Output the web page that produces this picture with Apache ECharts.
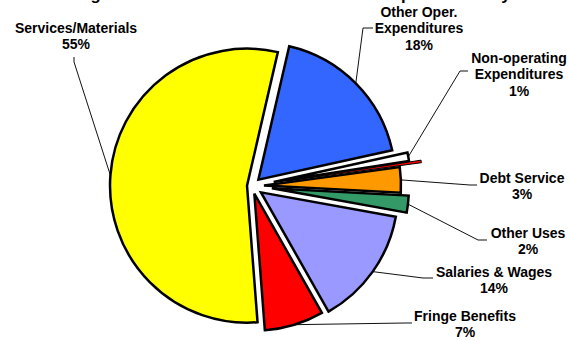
<!DOCTYPE html>
<html>
<head>
<meta charset="utf-8">
<script src="https://cdn.jsdelivr.net/npm/echarts@6/dist/echarts.min.js"></script>
<style>
  html, body { margin: 0; padding: 0; background: #fff; }
  #chart { width: 569px; height: 340px; }
</style>
</head>
<body>
<div id="chart"></div>
<script>
// Expenditure categories, listed clockwise starting just right of 12 o'clock
const categories = [
  'Other Oper.\nExpenditures',
  'Non-operating\nExpenditures',
  '',
  'Debt Service',
  'Other Uses',
  'Salaries & Wages',
  'Fringe Benefits',
  'Services/Materials'
];
// Share of the total, in percent
const shares = [18, 1, 0.3, 3, 2, 14, 7, 55];

const titleText = 'Budget Allocation of Total General Fund Expenditures by Function';

// ---- styling / layout ----
const colors = ['#3366FF', '#FFFFFF', '#FF0000', '#FF9900', '#339966', '#9999FF', '#FF0000', '#FFFF00'];
const borderWidths = [2.5, 2.5, 1, 2.5, 2.5, 2.5, 2.5, 2.5];
const explode = [9, 22, 34, 12, 20, 11, 8, 5];          // px each slice is pulled out
const labelAt = [[419, 28], [519, 74], null, [522, 186], [528, 241], [494, 280], [465, 324], [76, 36]];
const lineBend = [
  [[363, 28], [373, 28]],
  [[460, 71], [468, 71]],
  null,
  [[470, 185], [477, 185]],
  [[478, 240], [487, 240]],
  [[423, 278], [433, 278]],
  [[405, 323], [412, 323]],
  [[74, 62], [74, 57]]
];
const CX = 252, CY = 186, R = 137, START = 77;
const FONT = 'Arial, "Liberation Sans", Helvetica, sans-serif';

const total = shares.reduce((a, b) => a + b, 0);
let cum = 0;
const series = shares.map((v, i) => {
  const mid = (START - (cum + v / 2) / total * 360) * Math.PI / 180;
  cum += v;
  const center = [CX + explode[i] * Math.cos(mid), CY - explode[i] * Math.sin(mid)];
  const labelled = categories[i] !== '';
  return {
    type: 'pie',
    silent: true,
    animation: false,
    clockwise: true,
    startAngle: START,
    center: center,
    radius: [0, R],
    avoidLabelOverlap: false,
    z: 2 + i,
    data: categories.map((name, j) => ({
      name: name || '-',
      value: shares[j],
      itemStyle: j === i
        ? { color: colors[j], borderColor: '#000', borderWidth: borderWidths[j], borderJoin: 'miter' }
        : { color: 'rgba(0,0,0,0)', borderWidth: 0 },
      label: { show: j === i && labelled },
      labelLine: { show: j === i && labelled }
    })),
    label: {
      position: 'outside',
      formatter: p => p.name + '\n' + Math.round(p.percent) + '%',
      fontFamily: FONT,
      fontWeight: 'bold',
      fontSize: 14,
      lineHeight: 16.5,
      color: '#000',
      align: 'center'
    },
    labelLine: { lineStyle: { color: '#111', width: 1 } },
    labelLayout: p => {
      const pos = labelAt[p.dataIndex];
      if (!pos || p.dataIndex !== i) return {};
      const out = { x: pos[0], y: pos[1], align: 'center', verticalAlign: 'middle' };
      if (p.labelLinePoints && lineBend[i]) {
        out.labelLinePoints = [p.labelLinePoints[0], lineBend[i][0], lineBend[i][1]];
      }
      return out;
    }
  };
});

const chart = echarts.init(document.getElementById('chart'), null, { renderer: 'svg' });
chart.setOption({
  backgroundColor: '#fff',
  animation: false,
  graphic: [{
    type: 'text',
    x: 58,
    y: -6,
    style: {
      text: titleText,
      fontFamily: FONT,
      fontWeight: 'bold',
      fontSize: 16.7,
      fill: '#000',
      verticalAlign: 'middle'
    }
  }],
  series: series
});
</script>
</body>
</html>
